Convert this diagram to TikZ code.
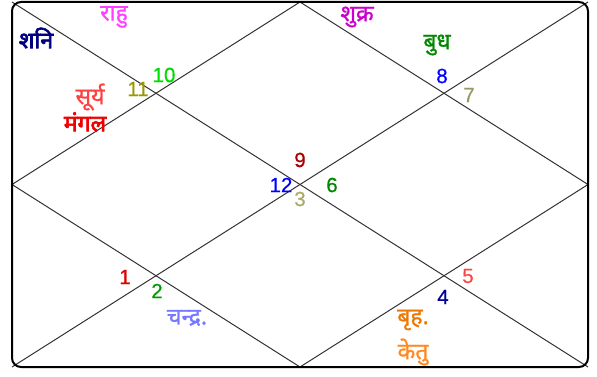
\documentclass[tikz,border=0pt]{standalone}
\usepackage{fontspec}
\setmainfont{Liberation Sans}
\newfontfamily\numfont[FakeBold=0.6]{Liberation Sans}
\newfontfamily\deva[Script=Devanagari,FakeBold=1]{Noto Sans}
\newfontfamily\devab[Script=Devanagari,FakeBold=3]{Noto Sans}
\begin{document}
\begin{tikzpicture}[x=1pt,y=-1pt,
  num/.style={font=\numfont\fontsize{20.5}{20.5}\selectfont, inner sep=0pt},
  hin/.style={font=\deva\fontsize{23}{23}\selectfont, inner sep=0pt},
  hinb/.style={font=\devab\fontsize{23}{23}\selectfont, inner sep=0pt},
  grid/.style={draw=black!80, line width=1pt}]
\useasboundingbox (0,0) rectangle (597,377);
% frame
\coordinate (tl) at (12,2);
\coordinate (tr) at (588,2);
\coordinate (br) at (588,367);
\coordinate (bl) at (12,367);
\coordinate (tm) at (300,2);
\coordinate (rm) at (588,184.5);
\coordinate (bm) at (300,367);
\coordinate (lm) at (12,184.5);
\draw[grid] (tl) -- (br);
\draw[grid] (tr) -- (bl);
\draw[grid] (lm) -- (tm) -- (rm) -- (bm) -- cycle;
\draw[line width=2pt, rounded corners=9pt] (tl) rectangle (br);
% house numbers
\node[num, text={rgb,255:red,0;green,220;blue,0}] (n10) at (164,75) {10};
\node[num, text={rgb,255:red,153;green,153;blue,0}] (n11) at (138,89) {11};
\node[num, text={rgb,255:red,0;green,0;blue,255}] (n8) at (442,76) {8};
\node[num, text={rgb,255:red,153;green,153;blue,102}] (n7) at (469,95) {7};
\node[num, text={rgb,255:red,170;green,0;blue,0}] (n9) at (300,160) {9};
\node[num, text={rgb,255:red,0;green,0;blue,255}] (n12) at (281,185) {12};
\node[num, text={rgb,255:red,0;green,136;blue,0}] (n6) at (332,185) {6};
\node[num, text={rgb,255:red,170;green,170;blue,102}] (n3) at (300,199) {3};
\node[num, text={rgb,255:red,221;green,0;blue,0}] (n1) at (125,277) {1};
\node[num, text={rgb,255:red,0;green,153;blue,0}] (n2) at (157,291) {2};
\node[num, text={rgb,255:red,0;green,0;blue,153}] (n4) at (443,297) {4};
\node[num, text={rgb,255:red,255;green,68;blue,68}] (n5) at (468,276) {5};
% planets
\node[hinb, text={rgb,255:red,0;green,0;blue,128}] (sani) at (36,38) {शनि};
\node[hin, text={rgb,255:red,255;green,64;blue,255}] (rahu) at (114,17) {राहु};
\node[hin, text={rgb,255:red,255;green,64;blue,64}] (surya) at (90,97) {सूर्य};
\node[hinb, text={rgb,255:red,238;green,0;blue,0}] (mangal) at (85,122) {मंगल};
\node[hin, text={rgb,255:red,204;green,0;blue,204}] (shukra) at (357,17) {शुक्र};
\node[hin, text={rgb,255:red,0;green,136;blue,0}] (budh) at (437,45) {बुध};
\node[hin, text={rgb,255:red,119;green,119;blue,255}] (chandra) at (187,318) {चन्द्र.};
\node[hin, text={rgb,255:red,238;green,119;blue,0}] (brih) at (413,320) {बृह.};
\node[hin, text={rgb,255:red,255;green,136;blue,34}] (ketu) at (413,352) {केतु};
\end{tikzpicture}
\end{document}
